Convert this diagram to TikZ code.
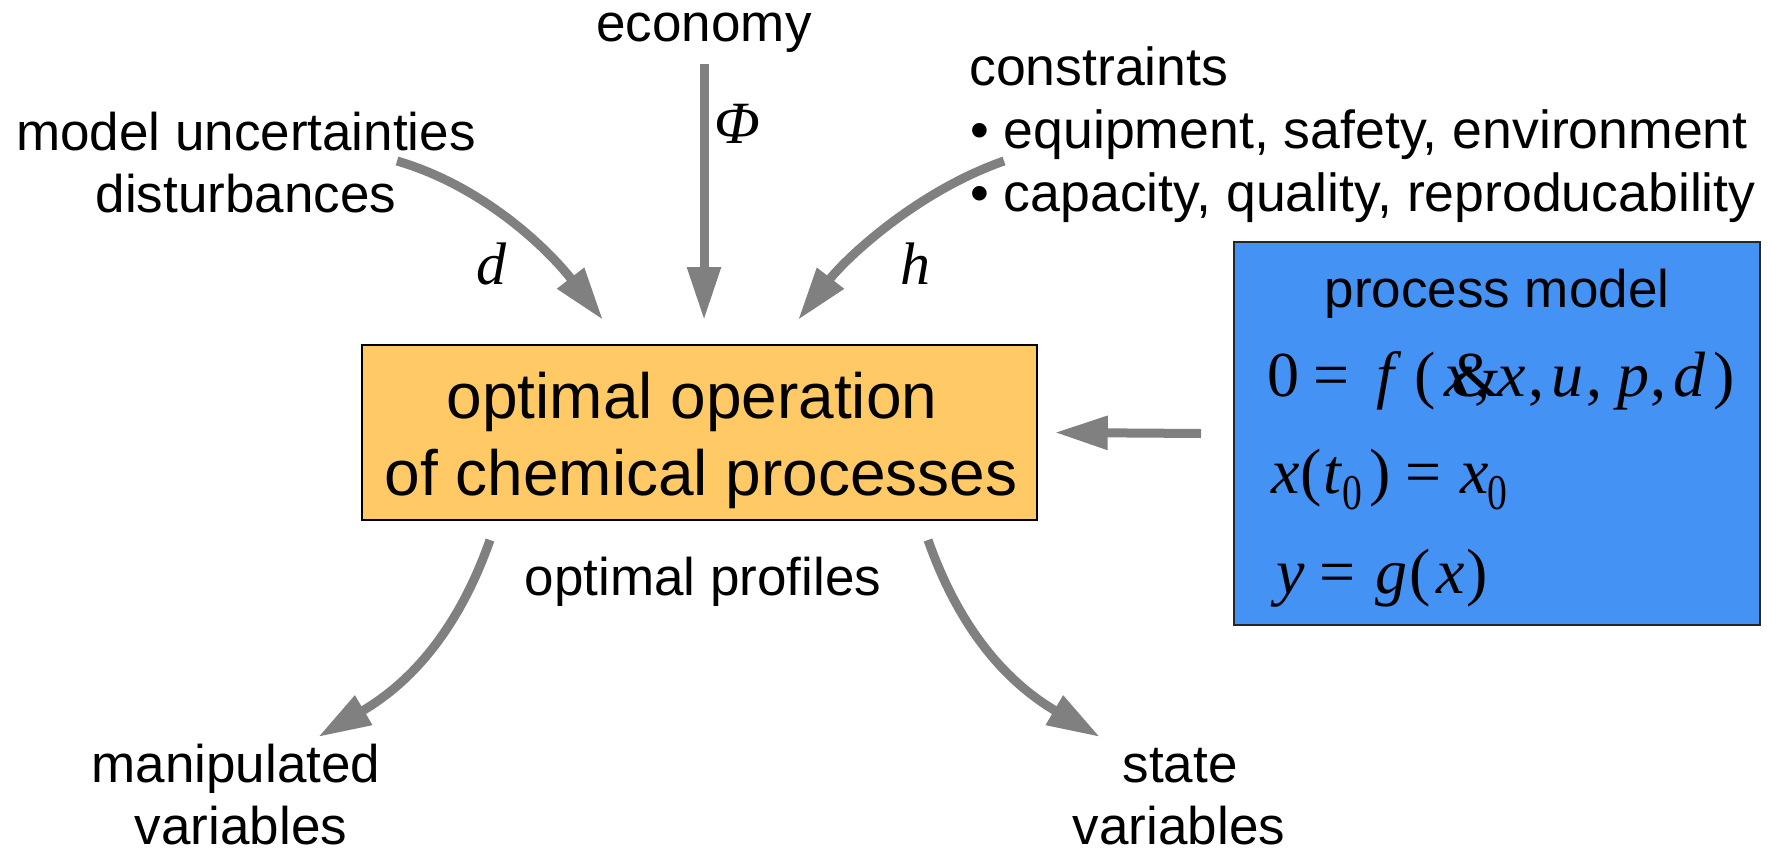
\documentclass[tikz,border=0pt]{standalone}
\usepackage{fontspec}
\setmainfont{Liberation Sans}
\newfontfamily\tms{Liberation Serif}
\usepackage{graphicx}
\usetikzlibrary{arrows.meta}
\definecolor{boxorange}{RGB}{255,202,102}
\definecolor{boxblue}{RGB}{68,146,243}
\definecolor{arrowgray}{RGB}{128,128,128}
\tikzset{
  lbl/.style={inner sep=0pt, anchor=base, font=\fontsize{53}{62}\selectfont},
  lblw/.style={inner sep=0pt, anchor=base west, font=\fontsize{53.6}{62}\selectfont},
  big/.style={inner sep=0pt, anchor=base, font=\fontsize{64}{77}\selectfont},
  mathlbl/.style={inner sep=0pt, anchor=base west, font=\tms\itshape\fontsize{60}{70}\selectfont},
  eq/.style={inner sep=0pt, anchor=base west, font=\tms\fontsize{64}{70}\selectfont},
  obox/.style={draw=black, line width=1.5pt, fill=boxorange, rectangle, inner sep=0pt, minimum width=675pt, minimum height=175pt},
  bbox/.style={draw=black!85, line width=2pt, fill=boxblue, rectangle, inner sep=0pt, minimum width=526pt, minimum height=383pt},
  flow/.style={draw=arrowgray, line width=9pt, -{Triangle[length=53pt,width=32pt]}},
}
\newcommand{\subzero}{\raisebox{-16pt}{\scalebox{0.62}[0.78]{0}}}
\begin{document}
\begin{tikzpicture}[x=1pt,y=-1pt]
\useasboundingbox (0,0) rectangle (1771,851);
% boxes
\node[obox] (op) at (699.5,432.5) {};
\node[big] (op1) at (692,418) {optimal operation};
\node[big] (op2) at (701,495) {of chemical processes};
\node[bbox] (pm) at (1497,433.5) {};
\node[lbl] (pmt) at (1497,307) {process model};
\node[eq] (eq1) at (1267.5,396) {0\hspace{13.7pt}=\hspace{27.1pt}\textit{f}\hspace{12.7pt}(\hspace{8.5pt}\textit{x}\rlap{\hspace{-20.8pt}\&}\hspace{1.3pt},\hspace{7.3pt}\textit{x}\hspace{3.3pt},\hspace{6.6pt}\textit{u}\hspace{3.4pt},\hspace{14.4pt}\textit{p}\hspace{1.6pt},\hspace{6.6pt}\textit{d}\hspace{8.1pt})};
\node[eq] (eq2) at (1271.7,493) {\textit{x}(\hspace{1.8pt}\textit{t}\hspace{0.3pt}\subzero\hspace{7.2pt})\hspace{14.8pt}=\hspace{18.4pt}\textit{x}\hspace{-1pt}\subzero};
\node[eq] (eq3) at (1276.3,593) {\textit{y}\hspace{14.5pt}=\hspace{19.7pt}\textit{g}\hspace{1.9pt}(\hspace{6.5pt}\textit{x}\hspace{1pt})};
% labels
\node[lbl] (ec) at (704,42) {economy};
\node[lbl] (mu1) at (246,150) {model uncertainties};
\node[lbl] (mu2) at (246,212) {disturbances};
\node[lblw] (cs) at (969,85) {constraints};
\node[lblw] (cs1) at (970,148) {• equipment, safety, environment};
\node[lblw] (cs2) at (970,211) {• capacity, quality, reproducability};
\node[lbl] (opf) at (703,595) {optimal profiles};
\node[lbl] (mv1) at (236,782) {manipulated};
\node[lbl] (mv2) at (241,844) {variables};
\node[lbl] (sv1) at (1180,782) {state};
\node[lbl] (sv2) at (1179,844) {variables};
\node[mathlbl] (phi) at (714,143) {Φ};
\node[mathlbl] (dl) at (476,284) {d};
\node[mathlbl] (hl) at (900,284) {h};
% connectors
\coordinate (dS) at (397,161);
\coordinate (dE) at (603,320);
\draw[flow] (dS) .. controls (483,186) and (548,249) .. (dE);
\coordinate (eS) at (704,64);
\coordinate (eE) at (704,320);
\draw[flow] (eS) -- (eE);
\coordinate (hS) at (1004,161);
\coordinate (hE) at (798,320);
\draw[flow] (hS) .. controls (918,191) and (847,257) .. (hE);
\draw[flow] ([xshift=-32pt]pm.west) -- ([xshift=17pt]op.east);
\coordinate (mS) at (490,540);
\coordinate (mE) at (318,737);
\draw[flow] (mS) .. controls (460,625) and (415,680) .. (mE);
\coordinate (sS) at (928,540);
\coordinate (sE) at (1100,737);
\draw[flow] (sS) .. controls (958,625) and (1003,680) .. (sE);
\end{tikzpicture}
\end{document}
